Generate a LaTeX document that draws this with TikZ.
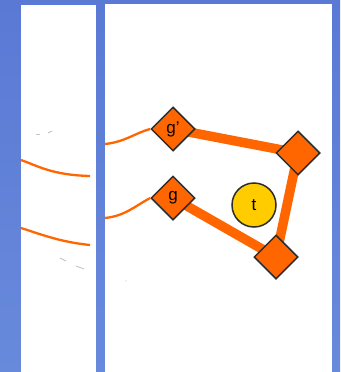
\documentclass[tikz,border=0pt]{standalone}
\usepackage{fontspec}
\setmainfont{Liberation Sans}
\usetikzlibrary{shapes.geometric}
\pgfdeclarelayer{background}
\pgfdeclarelayer{edges}
\pgfsetlayers{background,edges,main}
\definecolor{bgblue}{RGB}{90,121,213}
\definecolor{bgblue2}{RGB}{104,138,219}
\definecolor{orng}{RGB}{255,102,0}
\definecolor{yel}{RGB}{255,204,0}
\definecolor{rim}{RGB}{45,45,45}
\tikzset{
  dnode/.style={diamond, aspect=1, minimum size=44pt, inner sep=0pt, fill=orng, draw=rim, line width=1.5pt, font=\fontsize{17}{17}\selectfont},
  tnode/.style={circle, minimum size=44pt, inner sep=0pt, fill=yel, draw=rim, line width=1.5pt, font=\fontsize{17}{17}\selectfont},
  thick edge/.style={draw=orng, line width=9.5pt},
  thin edge/.style={draw=orng, line width=2.3pt},
  speck/.style={draw=gray!45, line width=0.9pt},
  panel/.style={fill=white, draw=none}
}
\begin{document}
\begin{tikzpicture}[x=1pt, y=-1pt]
\useasboundingbox (0,0) rectangle (340,372);
\begin{pgfonlayer}{background}
  \shade[top color=bgblue, bottom color=bgblue2] (0,0) rectangle (340,372);
  \fill[panel] (21,5) rectangle (96,372);
  \fill[panel] (105,4) rectangle (332,372);
\end{pgfonlayer}

\node[dnode] (gp) at (173,129) {g'};
\node[dnode] (g) at (173,198) {g};
\node[dnode] (tr) at (298,153) {};
\node[dnode] (br) at (276,257) {};
\node[tnode] (t) at (254,205) {t};

\coordinate (a1) at (105,144);
\coordinate (a2) at (105,218);
\coordinate (l1s) at (21,160);
\coordinate (l1e) at (90,176);
\coordinate (l2s) at (21,228);
\coordinate (l2e) at (90,245);

\begin{pgfonlayer}{edges}
  \draw[thick edge] (gp.center) -- (tr.center);
  \draw[thick edge] (g.center) -- (br.center);
  \draw[thick edge] (tr.center) -- (br.center);
\end{pgfonlayer}

\draw[thin edge] (a1) .. controls (125,142) and (135,133) .. (gp.west);
\draw[thin edge] (a2) .. controls (125,216) and (135,206) .. (g.west);
\draw[thin edge] (l1s) .. controls (38,166) and (52,175) .. (l1e);
\draw[thin edge] (l2s) .. controls (40,234) and (60,242) .. (l2e);

\draw[speck] (36,134) -- (40,134);
\draw[speck] (48,133) -- (52,131);
\draw[speck] (60,258) -- (66,261);
\draw[speck] (76,266) -- (84,269);
\fill[gray!50] (126,281) circle (0.6pt);
\end{tikzpicture}
\end{document}
